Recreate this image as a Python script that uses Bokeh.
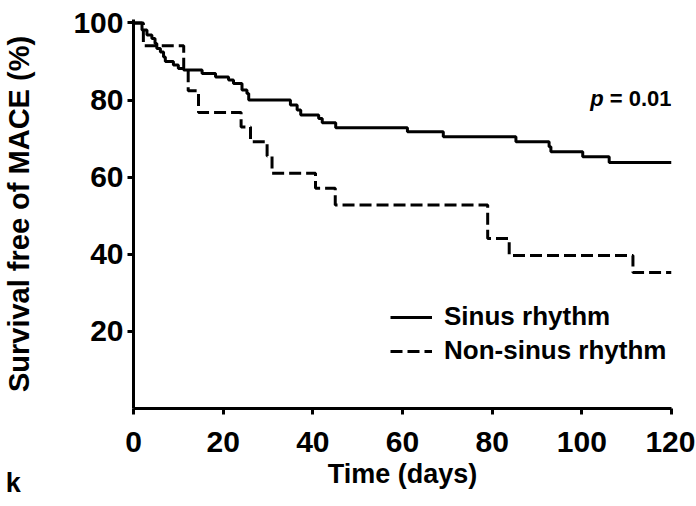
from bokeh.plotting import figure
from bokeh.models import Range1d, FixedTicker, Label, Legend, LegendItem
from bokeh.embed import file_html
from bokeh.resources import INLINE

# Sinus rhythm (Kaplan-Meier, step after)
sinus_t = [0, 1.9, 3.0, 4.1, 4.8, 5.2, 6.0, 6.7, 7.1, 8.9, 10.0, 11.2, 15.3, 18.3, 21.2, 22.3,
           24.2, 25.3, 25.7, 35.0, 36.5, 37.3, 41.3, 42.1, 45.1, 61.1, 69.1, 85.3, 92.7, 93.1,
           100.2, 106.1, 120]
sinus_v = [100, 98.2, 96.9, 96.0, 94.7, 93.4, 92.5, 91.2, 90.0, 89.1, 88.2, 87.8, 86.9, 86.0, 85.2, 84.3,
           82.6, 81.7, 80.0, 78.7, 77.4, 76.1, 75.2, 74.1, 72.8, 71.8, 70.5, 69.2, 67.9, 66.6,
           65.3, 63.8, 63.8]

# Non-sinus rhythm
non_t = [0, 2.2, 11.2, 12.2, 14.5, 24.0, 26.1, 29.8, 30.9, 40.6, 45.0, 79.0, 83.8, 111.4, 120]
non_v = [100, 94.1, 88.2, 82.4, 76.8, 73.0, 69.2, 65.5, 61.0, 57.1, 52.8, 44.1, 39.7, 35.3, 35.3]

x_ticks = [0, 20, 40, 60, 80, 100, 120]
y_ticks = [20, 40, 60, 80, 100]

FONT = "Liberation Sans"

p = figure(frame_width=538, frame_height=389, output_backend="svg", toolbar_location=None,
           x_range=Range1d(0, 120), y_range=Range1d(0, 100.9),
           min_border_left=130, min_border_top=19, min_border_right=24, min_border_bottom=90)
p.outline_line_color = None
p.xgrid.visible = False
p.ygrid.visible = False

r1 = p.step(sinus_t, sinus_v, mode="after", line_color="black", line_width=3)
r2 = p.step(non_t, non_v, mode="after", line_color="black", line_width=3, line_dash="12 5")

for ax, ticks in ((p.xaxis[0], x_ticks), (p.yaxis[0], y_ticks)):
    ax.ticker = FixedTicker(ticks=ticks)
    ax.axis_line_width = 3
    ax.axis_line_color = "black"
    ax.major_tick_line_width = 3
    ax.major_tick_line_color = "black"
    ax.major_tick_out = 6
    ax.major_tick_in = 0
    ax.minor_tick_line_color = None
    ax.major_label_text_font = FONT
    ax.major_label_text_font_style = "bold"
    ax.major_label_text_font_size = "30px"
    ax.major_label_text_color = "black"
    ax.axis_label_text_font = FONT
    ax.axis_label_text_font_style = "bold"
    ax.axis_label_text_color = "black"

p.xaxis.axis_label = "Time (days)"
p.yaxis.axis_label = "Survival free of MACE (%)"
p.xaxis.axis_label_text_font_size = "27px"
p.yaxis.axis_label_text_font_size = "29px"
p.xaxis.major_label_standoff = 17
p.yaxis.major_label_standoff = 4
p.xaxis.axis_label_standoff = 4
p.yaxis.axis_label_standoff = 35

legend = Legend(items=[LegendItem(label="Sinus rhythm", renderers=[r1]),
                       LegendItem(label="Non-sinus rhythm", renderers=[r2])],
                location=(257, 42), glyph_width=42, glyph_height=24, label_height=24,
                label_standoff=12, spacing=3, padding=0, margin=0,
                border_line_color=None, background_fill_alpha=0,
                label_text_font=FONT, label_text_font_style="bold",
                label_text_font_size="26px", label_text_color="black")
p.add_layout(legend, "center")

p.add_layout(Label(x=101.9, y=80.5, text="p", text_font=FONT, text_font_style="bold italic",
                   text_font_size="22px", text_baseline="middle", text_align="left",
                   text_color="black"))
p.add_layout(Label(x=120, y=80.5, text="= 0.01", text_font=FONT, text_font_style="bold",
                   text_font_size="22px", text_baseline="middle", text_align="right",
                   text_color="black"))
# panel letter fragment at the bottom-left corner (side panel, so it is not clipped to the frame)
p.add_layout(Label(x=-28.5, y=-23.1, text="k",
                   text_font=FONT, text_font_style="bold", text_font_size="27px",
                   text_baseline="bottom", text_align="left", text_color="black"), "right")

open("out.html", "w").write(file_html(p, INLINE))
